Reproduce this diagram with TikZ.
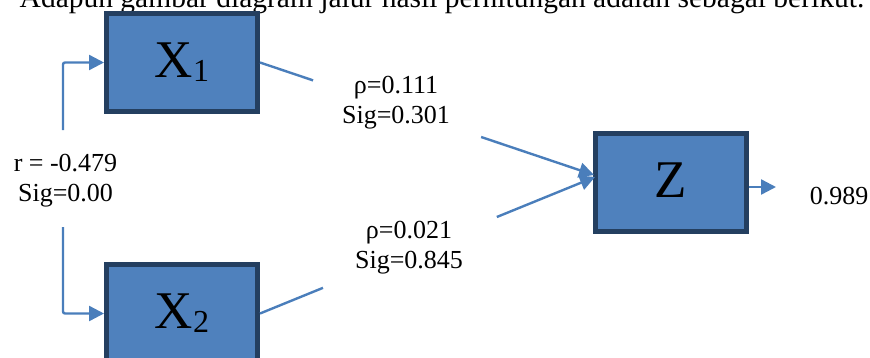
\documentclass[tikz,border=0pt]{standalone}
\usepackage{fontspec}
\setmainfont{Liberation Serif}
\usetikzlibrary{arrows.meta,calc}
\definecolor{boxfill}{HTML}{4F81BD}
\definecolor{boxline}{HTML}{243F60}
\definecolor{conncol}{HTML}{4A7EBB}
\newcommand\varlabel[2]{{\fontsize{53}{53}\selectfont #1\raisebox{-4pt}{\fontsize{32}{32}\selectfont #2}}}
\begin{document}
\begin{tikzpicture}[x=1pt,y=-1pt,
  varbox/.style={draw=boxline,fill=boxfill,line width=5pt,minimum width=151pt,minimum height=98pt,inner sep=0pt},
  conn/.style={draw=conncol,line width=2.4pt},
  arr/.style={conn,-{Triangle[length=15pt,width=15pt]}},
  lbl/.style={font=\fontsize{26}{30}\selectfont,align=center,inner sep=0pt}]
\useasboundingbox (0,0) rectangle (870,357);
\clip (0,0) rectangle (870,357);
\node[anchor=base,font=\fontsize{29.5}{34}\selectfont,inner sep=0pt] (title) at (442,7) {Adapun gambar diagram jalur hasil perhitungan adalah sebagai berikut.};
\node[varbox] (X1) at (182,62.5) {\varlabel{X}{1}};
\node[varbox] (X2) at (182,313.5) {\varlabel{X}{2}};
\node[varbox] (Z) at (671,182.5) {\varlabel{Z}{}};
\node[lbl] (r) at (65.5,180.5) {r = -0.479\\Sig=0.00};
\node[lbl] (l1) at (396,103) {ρ=0.111\\Sig=0.301};
\node[lbl] (l2) at (409,248) {ρ=0.021\\Sig=0.845};
\node[lbl] (out) at (839,196.5) {0.989};
\coordinate (zin1) at (594,175);
\coordinate (zin2) at (595,177);
\path (X1.east) -- (zin1) coordinate[pos=0.159] (g1a) coordinate[pos=0.662] (g1b);
\path (X2.east) -- (zin2) coordinate[pos=0.188] (g2a) coordinate[pos=0.707] (g2b);
\draw[conn] (X1.east) -- (g1a);
\draw[arr] (g1b) -- (zin1);
\draw[conn] (X2.east) -- (g2a);
\draw[arr] (g2b) -- (zin2);
\coordinate (ra) at (63,130);
\coordinate (rb) at (63,227);
\draw[arr,rounded corners=2pt] (ra) |- (X1.west);
\draw[arr,rounded corners=2pt] (rb) |- (X2.west);
\coordinate (ztip) at (776,187);
\draw[arr] (Z.east |- ztip) -- (ztip);
\end{tikzpicture}
\end{document}
